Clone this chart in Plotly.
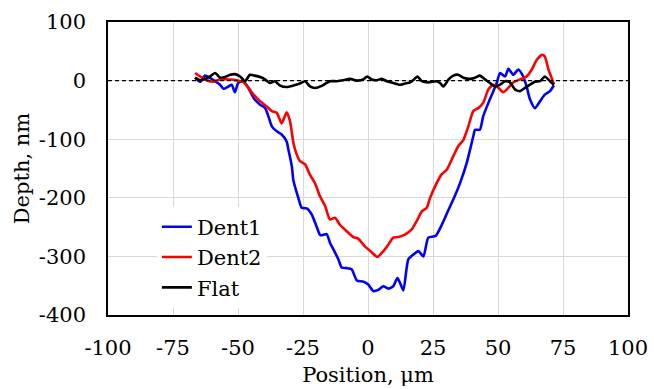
import plotly.graph_objects as go

dent1_x = [-66.5, -64.6, -62.7, -60.8, -58.8, -56.9, -55.6, -53.7, -52.4, -51.2, -49.9, -48, -46, -44, -41.5,
           -39.6, -38.3, -37, -35.1, -33.2, -31.3, -30.6, -29.3, -28.7, -26.8, -25.5, -23.6, -21.7, -19.7, -18.5,
           -17.8, -15.9, -14.6, -13.3, -11.4, -10.1, -8.2, -6.3, -4.3, -1.8, 0.1, 2, 4, 5.9, 7.8, 9.7, 11.3, 12.3,
           13.6, 15.5, 17.4, 19.4, 21.3, 23.2, 26, 28.5, 30.5, 32.8, 35.4, 38, 40.5, 41.2, 43, 44.3, 46.3, 48.2,
           49.5, 50.8, 52.7, 54, 55.9, 57.8, 59.7, 61, 62.3, 64.2, 66.2, 68, 70, 71.5]
dent1_y = [5, -2, 8.5, 4.6, -1, -7, -14, -10, -7, -20, -4, -1, -12.5, -29.5, -41,
           -46.6, -61, -78, -86.5, -92, -104, -118, -146, -170, -200, -217, -218, -228, -250, -263,
           -264, -262, -277, -288, -305, -319, -320, -322, -341, -343, -348, -359, -357, -351, -355, -351, -337, -345,
           -358, -305, -297, -291, -300, -268, -265, -245, -225, -203, -175, -140, -95, -84, -84, -61, -38, -18,
           -4, 13, 7, 20, 10, 19, 7, -10, -32, -47, -35, -24, -18, -8]

dent2_x = [-66.5, -64.6, -62, -59.5, -56.9, -53, -50.5, -48, -46, -44, -41.5, -39, -37, -35.1, -33.2, -31.3,
           -30, -28.7, -27.5, -26.2, -24.2, -22.3, -20.4, -18.5, -16.5, -14.6, -12.7, -10.8, -8.2, -5.6, -3.7,
           -1.2, 1.4, 3.6, 5.9, 7.8, 9.7, 11.7, 14.2, 16.8, 18.7, 20.7, 22.6, 23.8, 26.4, 28.3, 30.3, 32.8, 34.7,
           36.7, 38.6, 40.5, 42.4, 44.3, 46.3, 48.2, 50.1, 52, 54, 55.9, 58.5, 61, 63, 65, 67, 68, 69.4, 70.6, 71.5]
dent2_y = [13, 7, 0.5, -2, 2, 2, 0.5, -2, -12, -24, -35, -44, -52, -55, -73, -54,
           -69, -106, -125, -137, -143, -161, -175, -197, -214, -237, -234, -246, -257, -267, -270,
           -283, -293, -301, -291, -280, -268, -267, -263, -254, -240, -223, -217, -201, -175, -160, -152, -129, -112,
           -101, -78, -52, -47, -38, -15, -7, -12, -20, -12, -3, 2, 7, 19, 36, 44, 41, 19, 5, -6]

flat_x = [-66.5, -64.6, -62.7, -60.8, -58.8, -56.9, -55, -53, -51.2, -49.2, -47.3, -45.4, -43.5, -41.5, -39.6,
          -37.7, -35.8, -33.8, -31.3, -28.7, -26.2, -24.2, -22.3, -20.4, -17.8, -15.9, -14.6, -12, -9.5, -6.9,
          -4.3, -1.8, -0.3, 1.4, 3.3, 5.3, 7.2, 9.7, 12.3, 14.2, 16.2, 17.7, 19, 20.7, 23.2, 26.4, 27.7, 29, 31,
          32.8, 34.7, 36.7, 39.2, 41.2, 43, 45, 46.9, 48.8, 50.8, 52.7, 54.6, 56.5, 58.5, 60.4, 62.3, 64.2, 66.2,
          68, 70, 71.5]
flat_y = [5, 0.5, 3, 7, 13, 5, 6, 10, 11, 7, -1, 10, 8.5, 6, 2,
          -4, -1, -8.5, -11, -8.5, -5, -1, -10, -12.5, -9, -4, -1, -1, 0.5, 3,
          0, 2, 7, 2, 0.5, 3, -1, -4, -7, -5, -3, 2, 7, -1, -3, -1, -4, -10, 2,
          8.5, 10, 5, 3, 5, 8.5, 2, -4, -10, -7, -1, -3, -15, -18, -12.5, -7, -2, -1,
          7, -1, -7]

x_ticks = [-100, -75, -50, -25, 0, 25, 50, 75, 100]
y_ticks = [-400, -300, -200, -100, 0, 100]
x_range = [-100, 100]
y_range = [-400, 100]
baseline = 0

FONT = "DejaVu Serif"
FS = 21

fig = go.Figure()
for name, xs, ys, col in [("Dent1", dent1_x, dent1_y, "#0000FF"),
                          ("Dent2", dent2_x, dent2_y, "#FF0000"),
                          ("Flat", flat_x, flat_y, "#000000")]:
    fig.add_trace(go.Scatter(x=xs, y=ys, mode="lines", name=name,
                             line=dict(color=col, width=2.6, shape="spline", smoothing=0.6)))

fig.add_hline(y=baseline, line=dict(color="black", width=1.2, dash="4px,3px"))

fig.update_layout(
    width=654, height=389,
    margin=dict(l=108, r=26, t=22, b=74),
    paper_bgcolor="white", plot_bgcolor="white",
    font=dict(family=FONT, size=FS, color="black"),
    showlegend=True,
    legend=dict(x=0.094, y=0.37, xanchor="left", yanchor="top",
                bgcolor="white", borderwidth=0,
                font=dict(family=FONT, size=FS, color="black"),
                tracegroupgap=0, itemwidth=30),
)
fig.update_xaxes(range=x_range, tickvals=x_ticks, ticktext=[str(v) for v in x_ticks],
                 showgrid=True, gridcolor="#d9d9d9", gridwidth=1,
                 showline=True, linecolor="black", linewidth=1.5, mirror=True,
                 zeroline=False, ticks="", ticklabelstandoff=13, automargin=False,
                 tickfont=dict(family=FONT, size=FS),
                 title=dict(text="Position, μm", font=dict(family=FONT, size=FS), standoff=8))
fig.update_yaxes(range=y_range, tickvals=y_ticks, ticktext=[str(v) for v in y_ticks],
                 showgrid=True, gridcolor="#d9d9d9", gridwidth=1,
                 showline=True, linecolor="black", linewidth=1.5, mirror=True,
                 zeroline=False, ticks="", ticklabelstandoff=16, automargin=False,
                 tickfont=dict(family=FONT, size=FS),
                 title=dict(text="Depth, nm", font=dict(family=FONT, size=FS), standoff=4))

fig.write_html("out.html")
